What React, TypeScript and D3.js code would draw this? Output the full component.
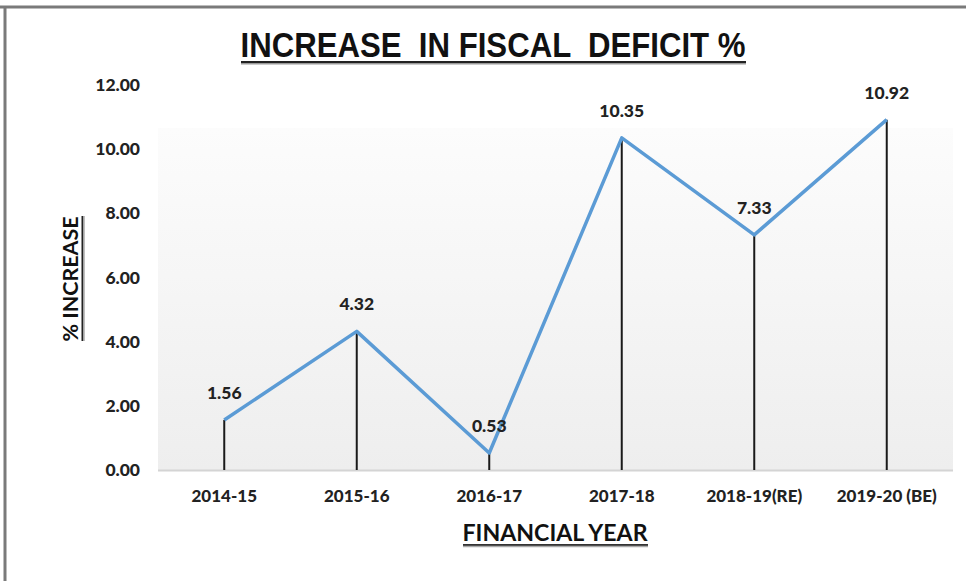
import React from "react";
import * as d3 from "d3";

const categories = ["2014-15", "2015-16", "2016-17", "2017-18", "2018-19(RE)", "2019-20 (BE)"];
const values = [1.56, 4.32, 0.53, 10.35, 7.33, 10.92];
const yTicks = [0, 2, 4, 6, 8, 10, 12];

const W = 966;
const H = 581;
const plot = { left: 158, right: 953, top: 85, bottom: 470 };
const fillTop = 128;

const tickFont = "Lato, 'DejaVu Sans', sans-serif";

export default function App() {
  const x = d3
    .scaleBand<string>()
    .domain(categories)
    .range([plot.left, plot.right])
    .padding(0);
  const y = d3.scaleLinear().domain([0, 12]).range([plot.bottom, plot.top]);
  const cx = (c: string) => (x(c) ?? 0) + x.bandwidth() / 2;

  const line = d3
    .line<number>()
    .x((_, i) => cx(categories[i]))
    .y((v) => y(v));

  return (
    <svg
      width={W}
      height={H}
      viewBox={`0 0 ${W} ${H}`}
      style={{ position: "absolute", left: 0, top: 0, background: "#fff" }}
    >
      <defs>
        <linearGradient id="plotFill" x1="0" y1="0" x2="0" y2="1">
          <stop offset="0" stopColor="#fcfcfc" />
          <stop offset="1" stopColor="#eeeeee" />
        </linearGradient>
      </defs>

      {/* outer frame (top and left edges) */}
      <line x1={0} x2={W} y1={7} y2={7} stroke="#7a7a7a" strokeWidth={3} />
      <line x1={5} x2={5} y1={6} y2={H} stroke="#7a7a7a" strokeWidth={3} />

      {/* title */}
      <text
        x={493}
        y={57}
        textAnchor="middle"
        fontFamily="'Liberation Sans Narrow', 'Liberation Sans', Arial, sans-serif"
        fontWeight="bold"
        fontSize={35}
        textLength={505}
        lengthAdjust="spacingAndGlyphs"
        fill="#111"
        style={{ whiteSpace: "pre" }}
      >
        {"INCREASE  IN FISCAL  DEFICIT %"}
      </text>
      <line x1={241} x2={746} y1={63.5} y2={63.5} stroke="#9a9a9a" strokeWidth={2} />
      <line x1={241} x2={746} y1={62} y2={62} stroke="#222" strokeWidth={2} />

      {/* plot background */}
      <rect
        x={plot.left}
        y={fillTop}
        width={plot.right - plot.left}
        height={plot.bottom - fillTop}
        fill="url(#plotFill)"
      />
      <line
        x1={plot.left}
        x2={plot.right}
        y1={plot.bottom + 0.5}
        y2={plot.bottom + 0.5}
        stroke="#d4d4d4"
        strokeWidth={2}
      />

      {/* y tick labels */}
      {yTicks.map((t) => (
        <text
          key={t}
          x={140}
          y={y(t) + 6}
          textAnchor="end"
          fontFamily={tickFont}
          fontWeight={900}
          fontSize={17.5}
          fill="#222"
        >
          {t.toFixed(2)}
        </text>
      ))}

      {/* x tick labels */}
      {categories.map((c) => (
        <text
          key={c}
          x={cx(c)}
          y={502}
          textAnchor="middle"
          fontFamily={tickFont}
          fontWeight={900}
          fontSize={17}
          fill="#222"
        >
          {c}
        </text>
      ))}

      {/* drop lines */}
      {values.map((v, i) => (
        <line
          key={categories[i]}
          x1={cx(categories[i])}
          x2={cx(categories[i])}
          y1={y(v)}
          y2={y(0)}
          stroke="#1a1a1a"
          strokeWidth={2}
        />
      ))}

      {/* series line */}
      <path
        d={line(values) ?? ""}
        fill="none"
        stroke="#5b9bd5"
        strokeWidth={3.5}
        strokeLinejoin="round"
      />

      {/* data labels */}
      {values.map((v, i) => (
        <text
          key={categories[i]}
          x={cx(categories[i])}
          y={y(v) - 21}
          textAnchor="middle"
          fontFamily={tickFont}
          fontWeight={900}
          fontSize={17.5}
          fill="#222"
        >
          {v.toFixed(2)}
        </text>
      ))}

      {/* y axis title */}
      <g transform="translate(78, 279) rotate(-90)">
        <text
          x={0}
          y={0}
          textAnchor="middle"
          fontFamily={tickFont}
          fontWeight="bold"
          fontSize={21}
          textLength={125}
          lengthAdjust="spacingAndGlyphs"
          fill="#111"
        >
          % INCREASE
        </text>
        <line x1={-62} x2={63} y1={4.5} y2={4.5} stroke="#222" strokeWidth={2} />
        <line x1={-62} x2={63} y1={6} y2={6} stroke="#aaa" strokeWidth={1.5} />
      </g>

      {/* x axis title */}
      <text
        x={555}
        y={541}
        textAnchor="middle"
        fontFamily={tickFont}
        fontWeight="bold"
        fontSize={23}
        textLength={185}
        lengthAdjust="spacingAndGlyphs"
        fill="#111"
      >
        FINANCIAL YEAR
      </text>
      <line x1={463} x2={648} y1={545} y2={545} stroke="#333" strokeWidth={2} />
      <line x1={463} x2={648} y1={546.5} y2={546.5} stroke="#aaa" strokeWidth={1.5} />
    </svg>
  );
}
